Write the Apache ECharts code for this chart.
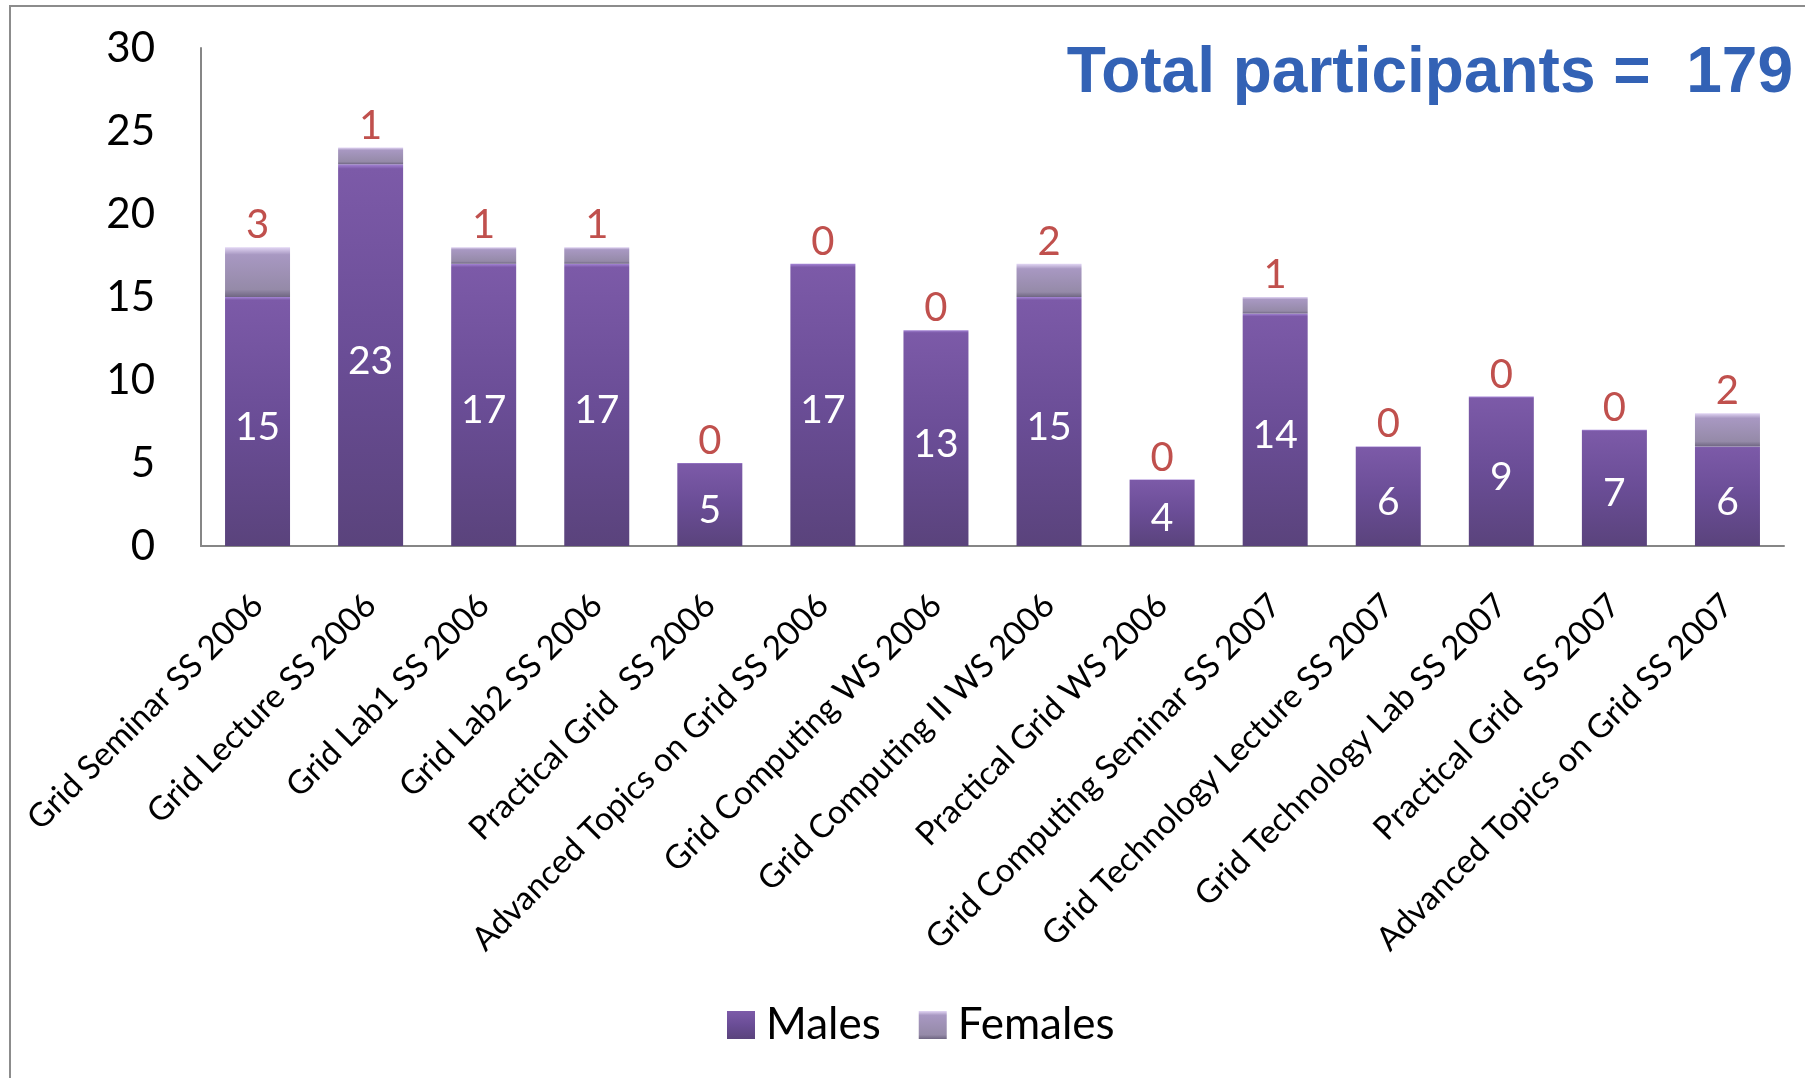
<!DOCTYPE html>
<html>
<head>
<meta charset="utf-8">
<script src="https://cdn.jsdelivr.net/npm/echarts@6/dist/echarts.min.js"></script>
<style>
  html, body { margin: 0; padding: 0; background: #fff; }
  #chart { width: 1805px; height: 1078px; }
</style>
</head>
<body>
<div id="chart"></div>
<script>
// courses on the x axis
var courses = [
    "Grid Seminar SS 2006", "Grid Lecture SS 2006", "Grid Lab1 SS 2006", "Grid Lab2 SS 2006",
    "Practical Grid  SS 2006", "Advanced Topics on Grid SS 2006", "Grid Computing WS 2006",
    "Grid Computing II WS 2006", "Practical Grid WS 2006", "Grid Computing Seminar SS 2007",
    "Grid Technology Lecture SS 2007", "Grid Technology Lab SS 2007", "Practical Grid  SS 2007",
    "Advanced Topics on Grid SS 2007"
];
var males = [15, 23, 17, 17, 5, 17, 13, 15, 4, 14, 6, 9, 7, 6];
var females = [3, 1, 1, 1, 0, 0, 0, 2, 0, 1, 0, 0, 0, 2];
var totalText = "Total participants =  179";

var labelFont = "Lato, 'Open Sans', sans-serif";

var chart = echarts.init(document.getElementById("chart"));

// purple glass look, darker at the bottom
var maleColor = new echarts.graphic.LinearGradient(0, 0, 0, 1, [
    {offset: 0, color: "#a585d6"},
    {offset: 0.012, color: "#7c5aa8"},
    {offset: 0.5, color: "#6a4d96"},
    {offset: 1, color: "#5a437c"}
]);
var femaleColor = new echarts.graphic.LinearGradient(0, 0, 0, 1, [
    {offset: 0, color: "#e2d6f4"},
    {offset: 0.15, color: "#a898c2"},
    {offset: 0.85, color: "#958aa8"},
    {offset: 1, color: "#6f6682"}
]);

var option = {
    backgroundColor: "#ffffff",
    animation: false,
    title: {
        text: totalText,
        right: 12,
        top: 42,
        padding: 0,
        textStyle: {
            fontFamily: "'Liberation Sans', Arial, sans-serif",
            fontWeight: "bold",
            fontSize: 64,
            color: "#3362b5"
        }
    },
    graphic: [{
        type: "rect",
        shape: {x: 10, y: 6, width: 1900, height: 1200},
        style: {fill: "none", stroke: "#8c8c8c", lineWidth: 2},
        silent: true
    }],
    legend: {
        bottom: 26,
        left: 722,
        itemWidth: 28,
        itemHeight: 28,
        itemGap: 38,
        icon: "rect",
        data: ["Males", "Females"],
        textStyle: {fontFamily: labelFont, fontSize: 44, color: "#000", padding: [0, 0, 0, 6]}
    },
    grid: {left: 201, right: 21, top: 48, bottom: 532, containLabel: false},
    xAxis: {
        type: "category",
        data: courses,
        axisLine: {lineStyle: {color: "#868686", width: 2}},
        axisTick: {show: false},
        axisLabel: {
            interval: 0,
            rotate: 45,
            margin: 54,
            fontFamily: labelFont,
            fontSize: 33,
            color: "#000"
        }
    },
    yAxis: {
        type: "value",
        min: 0,
        max: 30,
        interval: 5,
        axisLine: {show: true, lineStyle: {color: "#868686", width: 2}},
        axisTick: {show: false},
        splitLine: {show: false},
        axisLabel: {margin: 46, fontFamily: labelFont, fontSize: 42, color: "#000"}
    },
    series: [
        {
            name: "Males",
            type: "bar",
            stack: "total",
            barWidth: 65,
            data: males,
            itemStyle: {color: maleColor},
            label: {
                show: true,
                position: "inside",
                offset: [0, 6],
                fontFamily: labelFont,
                fontSize: 39,
                color: "#fff"
            }
        },
        {
            name: "Females",
            type: "bar",
            stack: "total",
            barWidth: 65,
            data: females,
            itemStyle: {color: femaleColor},
            label: {
                show: true,
                position: "top",
                distance: 2,
                fontFamily: labelFont,
                fontSize: 40,
                color: "#c0504d"
            }
        }
    ]
};
chart.setOption(option);
</script>
</body>
</html>
